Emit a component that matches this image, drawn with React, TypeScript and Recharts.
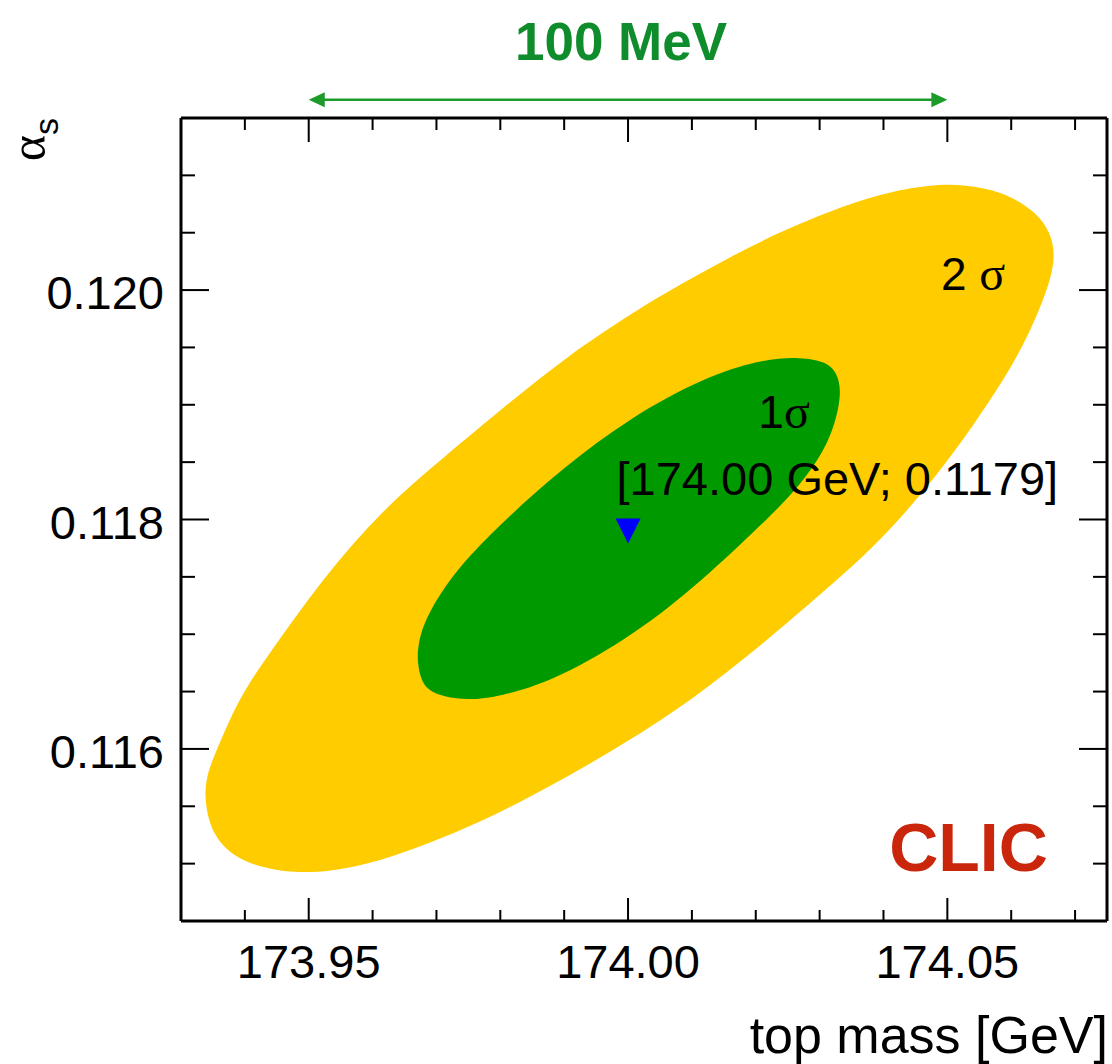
import { ScatterChart, Scatter, XAxis, YAxis, ReferenceLine, ReferenceDot, Curve } from 'recharts';

// contours: (top mass [GeV], alpha_s)
const SIGMA2_CONTOUR = [
  { mass: 173.9337, alphaS: 0.11558 },
  { mass: 173.9343, alphaS: 0.11538 },
  { mass: 173.9354, alphaS: 0.11523 },
  { mass: 173.9382, alphaS: 0.11506 },
  { mass: 173.9429, alphaS: 0.11496 },
  { mass: 173.9476, alphaS: 0.11492 },
  { mass: 173.9534, alphaS: 0.11493 },
  { mass: 173.9612, alphaS: 0.11502 },
  { mass: 173.969, alphaS: 0.11518 },
  { mass: 173.9768, alphaS: 0.11536 },
  { mass: 173.9846, alphaS: 0.11558 },
  { mass: 173.9925, alphaS: 0.11582 },
  { mass: 173.9998, alphaS: 0.11606 },
  { mass: 174.0101, alphaS: 0.11643 },
  { mass: 174.0206, alphaS: 0.11689 },
  { mass: 174.031, alphaS: 0.11739 },
  { mass: 174.0382, alphaS: 0.11774 },
  { mass: 174.0467, alphaS: 0.11826 },
  { mass: 174.0545, alphaS: 0.11885 },
  { mass: 174.0612, alphaS: 0.11942 },
  { mass: 174.0654, alphaS: 0.11995 },
  { mass: 174.067, alphaS: 0.12027 },
  { mass: 174.0662, alphaS: 0.12051 },
  { mass: 174.0635, alphaS: 0.1207 },
  { mass: 174.0585, alphaS: 0.12086 },
  { mass: 174.0529, alphaS: 0.12092 },
  { mass: 174.0473, alphaS: 0.12092 },
  { mass: 174.0395, alphaS: 0.12084 },
  { mass: 174.0317, alphaS: 0.12069 },
  { mass: 174.0239, alphaS: 0.12051 },
  { mass: 174.016, alphaS: 0.12029 },
  { mass: 174.0082, alphaS: 0.12005 },
  { mass: 174.0009, alphaS: 0.11981 },
  { mass: 173.9906, alphaS: 0.11943 },
  { mass: 173.9801, alphaS: 0.11896 },
  { mass: 173.9696, alphaS: 0.11847 },
  { mass: 173.9625, alphaS: 0.11813 },
  { mass: 173.954, alphaS: 0.11761 },
  { mass: 173.9462, alphaS: 0.11702 },
  { mass: 173.9404, alphaS: 0.11656 },
  { mass: 173.9378, alphaS: 0.11628 },
  { mass: 173.9351, alphaS: 0.11593 },
  { mass: 173.934, alphaS: 0.11576 },
];

const SIGMA1_CONTOUR = [
  { mass: 173.967, alphaS: 0.11676 },
  { mass: 173.9676, alphaS: 0.11658 },
  { mass: 173.9695, alphaS: 0.11647 },
  { mass: 173.9748, alphaS: 0.11642 },
  { mass: 173.98, alphaS: 0.11646 },
  { mass: 173.9878, alphaS: 0.11658 },
  { mass: 173.9998, alphaS: 0.11695 },
  { mass: 174.0101, alphaS: 0.11739 },
  { mass: 174.0206, alphaS: 0.11794 },
  { mass: 174.0248, alphaS: 0.11817 },
  { mass: 174.0289, alphaS: 0.11844 },
  { mass: 174.032, alphaS: 0.11874 },
  { mass: 174.0335, alphaS: 0.11909 },
  { mass: 174.0328, alphaS: 0.11928 },
  { mass: 174.0309, alphaS: 0.11938 },
  { mass: 174.0264, alphaS: 0.11942 },
  { mass: 174.0206, alphaS: 0.11939 },
  { mass: 174.012, alphaS: 0.11924 },
  { mass: 174.0003, alphaS: 0.11889 },
  { mass: 173.9898, alphaS: 0.11845 },
  { mass: 173.98, alphaS: 0.11796 },
  { mass: 173.9753, alphaS: 0.11769 },
  { mass: 173.9714, alphaS: 0.11743 },
  { mass: 173.9682, alphaS: 0.11713 },
  { mass: 173.9671, alphaS: 0.11691 },
];

const BEST_FIT = [{ mass: 174.0, alphaS: 0.1179 }];

const MASS_DOMAIN = [173.93, 174.075];
const ALPHA_DOMAIN = [0.1145, 0.1215];
const MASS_TICKS = [173.94, 173.95, 173.96, 173.97, 173.98, 173.99, 174.0, 174.01, 174.02, 174.03, 174.04, 174.05, 174.06, 174.07];
const MASS_LABELS = [173.95, 174.0, 174.05];
const ALPHA_TICKS = [0.115, 0.1155, 0.116, 0.1165, 0.117, 0.1175, 0.118, 0.1185, 0.119, 0.1195, 0.12, 0.1205, 0.121];
const ALPHA_LABELS = [0.116, 0.118, 0.12];

// 100 MeV range shown above the frame
const RANGE_MASS = [173.95, 174.05];
const RANGE_ALPHA = 0.12166;

const SANS = '"Liberation Sans", Arial, Helvetica, sans-serif';
const SERIF = '"Liberation Serif", "Times New Roman", serif';
const YELLOW = '#ffcc00';
const GREEN = '#009900';

const isMajor = (list: number[], v: number) => list.some((m) => Math.abs(m - v) < 1e-7);

function BottomTick({ x, y, payload }: any) {
  const major = isMajor(MASS_LABELS, payload.value);
  return (
    <g>
      <line x1={x} x2={x} y1={y} y2={y - (major ? 23 : 11)} stroke="#000" strokeWidth={2} />
      {major && (
        <text x={x} y={y + 57} textAnchor="middle" fontSize={47} fontFamily={SANS} fill="#000">
          {payload.value.toFixed(2)}
        </text>
      )}
    </g>
  );
}

function TopTick({ x, y, payload }: any) {
  const major = isMajor(MASS_LABELS, payload.value);
  return <line x1={x} x2={x} y1={y} y2={y + (major ? 24 : 12)} stroke="#000" strokeWidth={2} />;
}

function LeftTick({ x, y, payload }: any) {
  const major = isMajor(ALPHA_LABELS, payload.value);
  return (
    <g>
      <line x1={x} x2={x + (major ? 28 : 14)} y1={y} y2={y} stroke="#000" strokeWidth={2} />
      {major && (
        <text x={x - 17} y={y + 19} textAnchor="end" fontSize={47} fontFamily={SANS} fill="#000">
          {payload.value.toFixed(3)}
        </text>
      )}
    </g>
  );
}

function RightTick({ x, y, payload }: any) {
  const major = isMajor(ALPHA_LABELS, payload.value);
  return <line x1={x} x2={x - (major ? 28 : 14)} y1={y} y2={y} stroke="#000" strokeWidth={2} />;
}

function RangeArrow({ x1, y1, x2 }: any) {
  const c = '#1c9a2a';
  return (
    <g>
      <line x1={x1 + 12} x2={x2 - 12} y1={y1} y2={y1} stroke={c} strokeWidth={2.5} />
      <polygon points={`${x1},${y1} ${x1 + 16},${y1 - 7.5} ${x1 + 16},${y1 + 7.5}`} fill={c} />
      <polygon points={`${x2},${y1} ${x2 - 16},${y1 - 7.5} ${x2 - 16},${y1 + 7.5}`} fill={c} />
      <text x={(x1 + x2) / 2 - 7} y={y1 - 40} textAnchor="middle" fontSize={53} fontWeight="bold" fontFamily={SANS} fill="#0f8c2c">
        100 MeV
      </text>
    </g>
  );
}

function DownTriangle({ cx, cy }: any) {
  return <polygon points={`${cx - 12.5},${cy - 12.5} ${cx + 12.5},${cy - 12.5} ${cx},${cy + 12.5}`} fill="#0000ff" />;
}

const frame = { stroke: '#000', strokeWidth: 3 };

export default function App() {
  return (
    <div style={{ position: 'absolute', left: 0, top: 0, width: 1112, height: 1064, background: '#fff' }}>
      <ScatterChart width={1112} height={1064} margin={{ top: 117, right: 4, bottom: 142, left: 180 }}>
        <XAxis
          xAxisId="b"
          type="number"
          dataKey="mass"
          orientation="bottom"
          domain={MASS_DOMAIN}
          allowDataOverflow
          ticks={MASS_TICKS}
          interval={0}
          height={1}
          tickSize={0}
          tickMargin={0}
          tickLine={false}
          tick={BottomTick}
          axisLine={frame}
          label={{
            content: ({ viewBox }: any) => (
              <text x={viewBox.x + viewBox.width + 1} y={viewBox.y + 132} textAnchor="end" fontSize={52} fontFamily={SANS} fill="#000">
                top mass [GeV]
              </text>
            ),
          }}
        />
        <XAxis
          xAxisId="t"
          type="number"
          dataKey="mass"
          orientation="top"
          domain={MASS_DOMAIN}
          allowDataOverflow
          ticks={MASS_TICKS}
          interval={0}
          height={1}
          tickSize={0}
          tickMargin={0}
          tickLine={false}
          tick={TopTick}
          axisLine={frame}
        />
        <YAxis
          yAxisId="l"
          type="number"
          dataKey="alphaS"
          orientation="left"
          domain={ALPHA_DOMAIN}
          allowDataOverflow
          ticks={ALPHA_TICKS}
          interval={0}
          width={1}
          tickSize={0}
          tickMargin={0}
          tickLine={false}
          tick={LeftTick}
          axisLine={frame}
          label={{
            content: ({ viewBox }: any) => {
              const tx = viewBox.x + viewBox.width - 136;
              const ty = viewBox.y;
              return (
                <text x={tx} y={ty} transform={`rotate(-90 ${tx} ${ty})`} textAnchor="end" fill="#000">
                  <tspan fontFamily={SERIF} fontSize={50}>α</tspan>
                  <tspan fontFamily={SANS} fontSize={34} dy={13}>s</tspan>
                </text>
              );
            },
          }}
        />
        <YAxis
          yAxisId="r"
          type="number"
          dataKey="alphaS"
          orientation="right"
          domain={ALPHA_DOMAIN}
          allowDataOverflow
          ticks={ALPHA_TICKS}
          interval={0}
          width={1}
          tickSize={0}
          tickMargin={0}
          tickLine={false}
          tick={RightTick}
          axisLine={frame}
        />

        <Scatter
          xAxisId="b"
          yAxisId="l"
          data={SIGMA2_CONTOUR}
          isAnimationActive={false}
          shape={() => <g />}
          line={(p: any) => <Curve {...p} type="basisClosed" fill={YELLOW} stroke="none" />}
        />
        <Scatter
          xAxisId="b"
          yAxisId="l"
          data={SIGMA1_CONTOUR}
          isAnimationActive={false}
          shape={() => <g />}
          line={(p: any) => <Curve {...p} type="basisClosed" fill={GREEN} stroke="none" />}
        />
        <Scatter xAxisId="b" yAxisId="l" data={BEST_FIT} isAnimationActive={false} shape={DownTriangle} />

        <ReferenceLine
          xAxisId="b"
          yAxisId="l"
          ifOverflow="visible"
          segment={[
            { x: RANGE_MASS[0], y: RANGE_ALPHA },
            { x: RANGE_MASS[1], y: RANGE_ALPHA },
          ]}
          shape={RangeArrow}
        />

        <ReferenceDot
          xAxisId="b"
          yAxisId="l"
          x={174.049}
          y={0.12}
          r={0}
          shape={({ cx, cy }: any) => (
            <text x={cx} y={cy} fill="#000" fontSize={46}>
              <tspan fontFamily={SANS}>2 </tspan>
              <tspan fontFamily={SERIF} fontSize={48}>σ</tspan>
            </text>
          )}
        />
        <ReferenceDot
          xAxisId="b"
          yAxisId="l"
          x={174.0204}
          y={0.1188}
          r={0}
          shape={({ cx, cy }: any) => (
            <text x={cx} y={cy} fill="#000" fontSize={46}>
              <tspan fontFamily={SANS}>1</tspan>
              <tspan fontFamily={SERIF} fontSize={48}>σ</tspan>
            </text>
          )}
        />
        <ReferenceDot
          xAxisId="b"
          yAxisId="l"
          x={173.9982}
          y={0.11821}
          r={0}
          shape={({ cx, cy }: any) => (
            <text x={cx} y={cy} fill="#000" fontSize={47} fontFamily={SANS}>
              [174.00 GeV; 0.1179]
            </text>
          )}
        />
        <ReferenceDot
          xAxisId="b"
          yAxisId="l"
          x={174.0409}
          y={0.11494}
          r={0}
          shape={({ cx, cy }: any) => (
            <text x={cx} y={cy} fill="#c9260b" fontSize={68} fontWeight="bold" fontFamily={SANS}>
              CLIC
            </text>
          )}
        />
      </ScatterChart>
    </div>
  );
}
